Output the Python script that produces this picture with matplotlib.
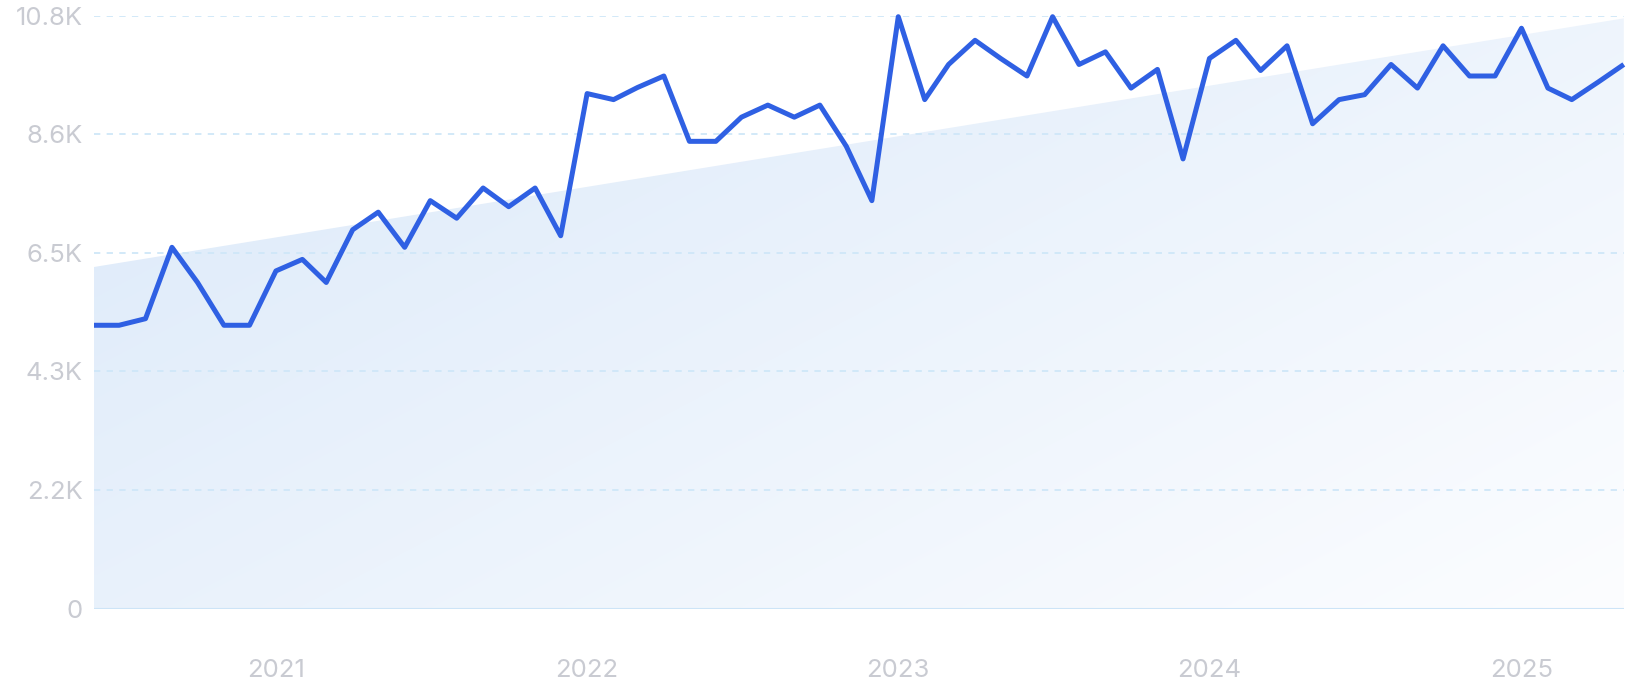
import numpy as np
import pandas as pd
import matplotlib
matplotlib.use('Agg')
import matplotlib.pyplot as plt
import matplotlib.dates as mdates
from matplotlib.patches import Polygon
from matplotlib.transforms import Bbox, TransformedBbox

# monthly values, Jun 2020 .. May 2025
months = pd.date_range('2020-06-01', periods=60, freq='MS')
values = [
    5160, 5160, 5280, 6580, 5940, 5160, 5160,
    6150, 6360, 5940, 6900, 7220, 6580, 7430, 7110, 7660, 7320, 7660, 6790,
    9380, 9270, 9490, 9700, 8510, 8510, 8950, 9170, 8950, 9170, 8420, 7430,
    10780, 9270, 9910, 10350, 10020, 9700, 10780, 9910, 10140, 9480, 9820, 8190,
    10020, 10350, 9800, 10250, 8830, 9270, 9360, 9910, 9480, 10250, 9700, 9700,
    10570, 9480, 9270, 9590, 9910,
]
trend_start, trend_end = 6220, 10750

y_ticks = [0, 2160, 4320, 6480, 8640, 10800]
y_labels = ['0', '2.2K', '4.3K', '6.5K', '8.6K', '10.8K']
year_ticks = ['2021', '2022', '2023', '2024', '2025']

plt.rcParams['font.family'] = ['Inter', 'DejaVu Sans']

fig = plt.figure(figsize=(16.29, 7.0), dpi=100)
ax = fig.add_axes([0.0574, 0.1306, 0.9394, 0.8471])

x = mdates.date2num(months.to_pydatetime())
x0, x1 = x[0], x[-1]

# gradient filled trend area
grad_h, grad_w = 200, 400
gy, gx = np.mgrid[0:1:grad_h * 1j, 0:1:grad_w * 1j]
t = np.clip((gx * 0.75 + gy * 0.55) / 1.3, 0, 1)
c0 = np.array([219, 233, 249]) / 255
c1 = np.array([252, 253, 255]) / 255
img = c0[None, None, :] * (1 - t[..., None]) + c1[None, None, :] * t[..., None]
im = ax.imshow(img, extent=[x0, x1, 0, trend_end], origin='upper',
               aspect='auto', zorder=1, interpolation='bilinear')
poly = Polygon([[x0, 0], [x0, trend_start], [x1, trend_end], [x1, 0]],
               closed=True, facecolor='none', edgecolor='none',
               transform=ax.transData)
ax.add_patch(poly)
im.set_clip_path(poly)

for yv in y_ticks[1:]:
    ax.axhline(yv, color='#cfe7f8', linewidth=1.3, linestyle=(0, (3.5, 3.5)), zorder=2)
ax.axhline(0, color='#cde4f7', linewidth=1.5, zorder=2)

line, = ax.plot(x, values, color='#2f60e3', linewidth=3.6,
                solid_capstyle='butt', solid_joinstyle='round', zorder=4)
line.set_clip_box(TransformedBbox(Bbox([[0, -0.05], [1.003, 1.05]]), ax.transAxes))

ax.set_xlim(x0, x1)
ax.set_ylim(0, 10800)
ax.set_yticks(y_ticks)
ax.set_yticklabels(y_labels)
ax.set_xticks([mdates.date2num(pd.Timestamp(f'{y}-01-01')) for y in year_ticks])
ax.set_xticklabels(year_ticks)
ax.tick_params(axis='both', length=0, labelsize=18.5, labelcolor='#c9cbd2')
ax.tick_params(axis='y', pad=8)
ax.tick_params(axis='x', pad=36)
for s in ax.spines.values():
    s.set_visible(False)

fig.savefig('out.png', dpi=100)
plt.close(fig)
